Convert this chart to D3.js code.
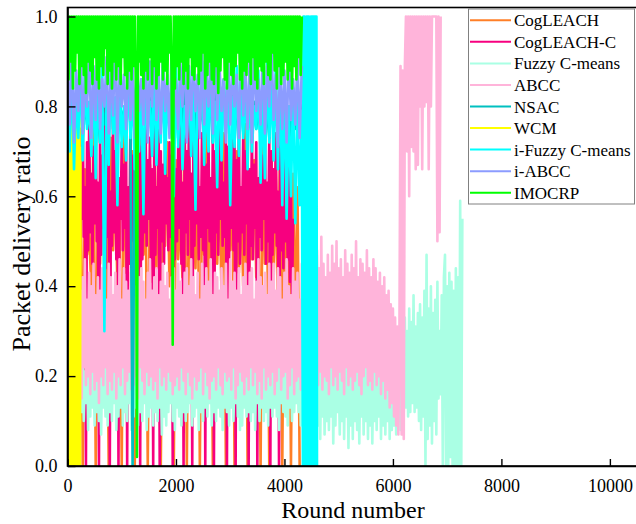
<!DOCTYPE html>
<html>
<head>
<meta charset="utf-8">
<script src="https://cdn.jsdelivr.net/npm/d3@7"></script>
<style>
body { margin: 0; background: #fff; }
text { font-family: "Liberation Serif", "Times New Roman", serif; }
</style>
</head>
<body>
<svg id="chart" width="636" height="524"></svg>
<script>
// series names + colours, in drawing (legend) order
var names = ["CogLEACH", "CogLEACH-C", "Fuzzy C-means", "ABCC", "NSAC", "WCM", "i-Fuzzy C-means", "i-ABCC", "IMOCRP"];
var colors = ["#ff7f27", "#f7007f", "#aaffe4", "#ffb4da", "#00c0c0", "#ffff00", "#00ffff", "#8c9cff", "#00ff00"];

var xTicks = [0, 2000, 4000, 6000, 8000, 10000];
var yTicks = [0, 0.2, 0.4, 0.6, 0.8, 1.0];

// values, one value every "step" rounds from "start"
var cogleach = [
  .63,.02,.71,.44,.58,.41,.75,0,.66,.47,
  .52,.39,.77,0,.61,.45,.69,.42,.57,0,
  .73,.48,.64,.40,.55,0,.78,.43,.60,.46,
  .70,0,.53,.38,.74,.47,.63,0,.67,.41,
  .59,.44,.76,0,.56,.49,.72,.40,.61,0,
  .68,.46,.54,.42,.77,0,.65,.39,.58,.44,
  .71,0,.62,.47,.75,.41,.57,0,.69,.45,
  .63,.38,.74,0,.52,.48,.66,0,.70,.43,
  .60,.40,.76,0,.55,.46,.68,.42,.64,0,
  .72,.45,.58,0,.70,.41,.66,.36,.72,0,
  .68,.33,.70,0,.65,.30,.62,0];
var cogleachC = [
  .70,.50,.76,.47,.66,0,.79,.53,.64,.49,
  .74,.46,.68,.55,.80,.51,.62,0,.72,.48,
  .77,.52,.65,.45,.71,.54,.78,.50,.63,0,
  .75,.47,.69,.53,.80,.44,.66,.51,.73,0,
  .61,.49,.77,.52,.70,.46,.79,0,.64,.55,
  .72,.48,.67,.53,.76,0,.62,.45,.78,.50,
  .69,.54,.74,.47,.65,.51,.80,0,.71,.46,
  .63,.52,.77,.49,.68,.55,.73,.44,.66,0,
  .79,.47,.62,.53,.75,0,.70,.50,.67,.45,
  .76,.54,.64,.48,.72,.51,.69,0,.74,.46,
  .66,.50,.71,.53,.78,.45,.63,0,.75,.52,
  .70,.47,.80,.55,.65,0,.73,.49,.68,.54,
  .77,.46,.62,.51,.74,.48,.79,0,.67,.53,
  .72,.50,.64,.44,.76,0,.70,.52,.66,.47,
  .78,.55,.69,.49,.63,.51,.75,0,.71,.46,
  .65,.53,.80,.48,.73,0,.68,.50,.77,.45,
  .62,.52,.74,.47,.70,.54,.79,0,.66,.49,
  .75,.46,.67,.53,.72,0,.64,.51,.78,.48,
  .69,.55,.76,.45,.63,.50,.73,0,.70,.47,
  .66,.52,.74,.49,.61,0,.71,.48,.65,.44,
  .68,.50,.63,.46,.70,.41,.60,.38,.55];
var fuzzy = [
  .24,.10,.28,.12,.22,.08,.27,.13,.25,.11,
  .29,.09,.23,.12,.26,.10,.21,.14,.28,.08,
  .25,.11,.30,.13,.22,.09,.27,.12,.24,.10,
  .28,.07,.23,.13,.26,.11,.29,.09,.21,.12,
  .27,.10,.24,.14,.28,.08,.22,.11,.26,.13,
  .30,.09,.25,.12,.23,.10,.27,.14,.24,.08,
  .28,.11,.22,.13,.26,.09,.29,.12,.25,.10,
  .23,.14,.27,.08,.24,.11,.28,.13,.21,.09,
  .26,.12,.29,.10,.25,.13,.22,.07,.27,.11,
  .24,.09,.28,.12,.23,.14,.26,.10,.29,.08,
  .25,.13,.22,.11,.27,.09,.24,.12,.28,.10,
  .27,.12,.23,.14,.29,.09,.25,.11,.22,.13,
  .26,.08,.28,.12,.24,.10,.30,.13,.23,.11,
  .29,.14,.25,.09,.27,.12,.22,.10,.28,.13,
  .23,.11,.26,.08,.29,.13,.24,.12,.27,.09,
  .25,.13,.28,.10,.22,.14,.26,.11,.30,.08,
  .28,.09,.24,.13,.27,.11,.23,.12,.25,.10,
  .22,.12,.29,.08,.26,.14,.28,.10,.24,.13,
  .27,.10,.25,.12,.23,.09,.29,.13,.26,.11,
  .30,.13,.24,.11,.28,.08,.25,.14,.22,.12,
  .26,.11,.29,.09,.24,.13,.27,.10,.28,.12,
  .23,.14,.26,.12,.30,.09,.25,.11,.22,.13,
  .28,.10,.24,.13,.27,.08,.26,.12,.29,.11,
  .23,.09,.26,.06,.25,.11,.27,.07,.24,.10,
  .28,.08,.23,.11,.26,.05,.24,.09,.27,.12,
  .22,.07,.25,.10,.28,.06,.24,.11,.26,.04,
  .23,.09,.27,.06,.25,.10,.22,.08,.26,.05,
  .24,.11,.27,.07,.23,.10,.28,.06,.25,.09,
  .26,.05,.22,.10,.27,.08,.24,.11,.25,.06,
  .23,.09,.26,.07,.24,.10,.28,.06,.25,.08,
  .24,.09,.21,.07,.28,.10,.26,.08,.30];
var fuzzyEnd = [
  .31,.12,.33,.13,.30,.11,.35,.12,.32,.14,
  .38,.12,.31,.13,.34,.10,.36,.08,.33,.11,
  .39,0,.47,.06,.35,.09,.40,.05,.34,.10,
  .37,.07,.41,.15,.30,.16,.38,0,.42,.47,
  0,.40,0,.43,.02,.41,0,.39,0,.44,
  0,.42,0,.59,0,.55];
var abcc = [
  .41,.18,.45,.20,.38,.16,.43,.21,.40,.17,
  .44,.19,.39,.15,.42,.22,.46,.18,.37,.20,
  .43,.16,.40,.21,.45,.17,.38,.19,.42,.14,
  .39,.20,.44,.18,.41,.22,.37,.16,.45,.19,
  .42,.17,.38,.21,.43,.15,.40,.20,.46,.18,
  .37,.22,.44,.16,.41,.19,.39,.21,.43,.17,
  .45,.18,.40,.20,.38,.15,.42,.22,.44,.19,
  .41,.16,.37,.21,.43,.18,.46,.20,.39,.17,
  .42,.19,.44,.15,.38,.22,.41,.18,.45,.20,
  .40,.17,.43,.21,.37,.19,.42,.16,.44,.18,
  .39,.20,.45,.17,.41,.22,.38,.19,.43,.16,
  .44,.21,.40,.18,.46,.15,.42,.20,.38,.17,
  .43,.19,.37,.22,.45,.16,.40,.21,.44,.18,
  .41,.15,.46,.19,.38,.20,.43,.17,.42,.22,
  .39,.18,.44,.16,.40,.21,.45,.19,.37,.20,
  .46,.17,.41,.22,.43,.15,.39,.18,.44,.21,
  .38,.19,.42,.16,.45,.20,.40,.17,.43,.22,
  .44,.18,.37,.21,.41,.16,.46,.19,.42,.15,
  .40,.22,.43,.17,.38,.20,.45,.18,.41,.21,
  .45,.16,.39,.19,.44,.22,.42,.17,.37,.20,
  .43,.21,.46,.15,.40,.18,.38,.22,.44,.16,
  .41,.19,.43,.20,.37,.17,.45,.21,.42,.18,
  .39,.16,.44,.22,.41,.19,.46,.17,.43,.20,
  .48,.18,.44,.21,.51,.17,.45,.20,.42,.19,
  .47,.16,.43,.22,.49,.18,.45,.20,.50,.17,
  .44,.21,.46,.19,.42,.16,.48,.22,.45,.18,
  .43,.20,.47,.17,.44,.19,.50,.21,.42,.18,
  .46,.16,.45,.20,.43,.22,.48,.18,.44,.19,
  .42,.17,.46,.21,.44,.18,.41,.20,.43,.16,
  .40,.19,.42,.15,.38,.17,.39,.13,.36,.14,
  .35,.11,.33,.09,.31,.07,.30];
var abccEnd = [
  .89,.07,.88,.06,.89,1,.70,1,.60,1,
  .71,1,.70,1,.66,1,.67,1,.80,1,
  .66,1,.80,1,.81,1,.66,1,.80,1,
  1,1,1,1,.50,1,.52,1];
var nsac = [
  .82,0,.84,.75,.80,.77,.86,.73,.81,.76,
  .79,.74,.85,.77,.80,.72,.83,.76,.79,.73,
  .86,.75,.80,.72,.82,.77,.79,.74,.84,.76,
  0,.75,.81,.73,.83,.77,.79,.74,.85,.76,
  .80,.72,.84,.76,.81,.73,.82,.77,.79,.75,
  .85,.73,.80,.76,.86,.74,.79,.77,.82,.72,
  .83,.76,.80,.74,.84,.77,.81,.72,.83,.78,
  .79,.73,.86,.75,.80,.77,.84,.72,.81,.76,
  .82,.74,.79,.77,.85,.72,.81,.75,.80,.73,
  .86,.76,.79,.73,.83,.75,.81,.77,.79,.72,
  .82,.76,.80,.73,.84,.75,.79,.74,.81];
var wcm = [.70,0,.76,0,.74,0,.77,0,.72,0,.75,0,.77,0,.73,0,.76,0,.74,0,.77,0,.71];
var iFuzzy = [
  .86,.70,.89,.66,.83,.73,.90,.68,.87,.75,
  .81,.69,.88,.64,.85,.72,.90,.30,.84,.67,
  .89,.74,.82,.58,.87,.71,.80,.68,.90,.73,
  .84,.66,.88,.70,.86,.56,.90,.75,.81,.69,
  .88,.67,.83,.72,.90,.65,.85,.74,.82,.60,
  .89,.71,.87,.66,.80,.73,.88,.69,.84,.57,
  .86,.75,.90,.67,.83,.70,.88,.72,.81,.62,
  .90,.68,.85,.74,.87,.58,.82,.71,.89,.69,
  .84,.73,.88,.66,.86,.70,.80,.75,.88,.63,
  .83,.64,.90,.72,.85,.68,.89,.66,.87,.58,
  .86,.55,.80,.60,.84,.54,.81,.58,.79];
var iFuzzyEnd = [0,1,.02,1,0,.98,0,1,.01,1,0,1,0,.99,0,1,.03,1,0,1,0,1,.02,1,0,1,0];
var iAbcc = [
  .90,.76,.93,.72,.88,.79,.95,.74,.87,.80,
  .92,.73,.89,.77,.94,.75,.86,.80,.91,.74,
  .88,.78,.95,.72,.90,.80,.87,.75,.93,.77,
  .89,.73,.92,.79,.86,.76,.94,.72,.90,.80,
  .95,.77,.88,.74,.91,.79,.87,.73,.93,.78,
  .86,.75,.90,.80,.94,.72,.89,.77,.92,.79,
  .87,.73,.93,.76,.88,.80,.91,.74,.95,.77,
  .90,.79,.86,.72,.92,.76,.89,.80,.87,.73,
  .94,.78,.88,.75,.91,.72,.93,.79,.86,.76,
  .92,.74,.89,.80,.95,.77,.87,.71,.90,.75,
  .88,.72,.93,.77,.86,.76,.91,.73,.89];
var imocrp = [
  1,.86,1,.90,1,.84,1,.88,1,.92,
  1,.85,1,.89,1,.87,1,.83,1,.90,
  1,.88,1,.85,1,.91,1,.86,1,.84,
  1,.89,1,.87,1,.93,1,.85,1,.88,
  1,.84,1,.90,1,.86,1,.89,1,.85,
  1,.91,1,.87,1,.84,1,.88,1,.86,
  1,.89,1,.85,.02,1,.90,1,.87,1,
  .84,1,.88,1,.86,1,.91,1,.85,1,
  .89,1,.84,1,.87,1,.90,1,.86,1,
  .88,1,.85,1,.92,1,.87,.27,1,.84,
  1,.89,1,.86,1,.90,1,.85,1,.88,
  1,.84,1,.91,1,.87,1,.86,1,.89,
  1,.85,1,.88,1,.92,1,.84,1,.87,
  1,.90,1,.86,1,.85,1,.89,1,.83,
  1,.88,1,.91,1,.86,1,.84,1,.90,
  1,.87,1,.85,1,.89,1,.92,1,.86,
  1,.84,1,.88,1,.87,1,.90,1,.85,
  1,.91,1,.86,1,.84,1,.89,1,.88,
  1,.85,1,.90,1,.87,1,.86,1,.92,
  1,.88,1,.84,1,.89,1,.85,1,.87,
  1,.90,1,.86,1,.88,1,.84,1,.89,
  1,.86,1,.91,1,.87,1];

// [start round, step, values] pieces per series
var pieces = [
  [[0, 40, cogleach]],
  [[0, 20, cogleachC]],
  [[0, 20, fuzzy], [6180, 20, fuzzyEnd]],
  [[0, 20, abcc], [6140, 20, abccEnd]],
  [[0, 40, nsac]],
  [[20, 10, wcm]],
  [[0, 40, iFuzzy], [4340, 10, iFuzzyEnd]],
  [[0, 40, iAbcc]],
  [[0, 20, imocrp]]
];

var svg = d3.select("#chart");
var pL = 67.5, pR = 637, pT = 7.5, pB = 466;

var x = d3.scaleLinear().domain([0, 10500]).range([pL, pR]);
var y = d3.scaleLinear().domain([0, 1.02]).range([pB, pT]);

svg.append("clipPath").attr("id", "clip")
  .append("rect").attr("x", pL).attr("y", pT).attr("width", pR - pL).attr("height", pB - pT);

var line = d3.line().x(function(d){ return x(d[0]); }).y(function(d){ return y(d[1]); });

var plot = svg.append("g").attr("clip-path", "url(#clip)");
pieces.forEach(function(p, i){
  var pts = [];
  p.forEach(function(seg){
    seg[2].forEach(function(v, j){ pts.push([seg[0] + j * seg[1], v]); });
  });
  plot.append("path").datum(pts)
    .attr("d", line)
    .attr("fill", "none")
    .attr("stroke", colors[i])
    .attr("stroke-width", 2.6)
    .attr("stroke-linejoin", "round");
});

// frame
svg.append("rect").attr("x", pL).attr("y", pT).attr("width", pR - pL + 2).attr("height", pB - pT)
  .attr("fill", "none").attr("stroke", "#000").attr("stroke-width", 1.6);

var xAxis = svg.append("g").attr("transform", "translate(0," + pB + ")")
  .call(d3.axisBottom(x).tickValues(xTicks).tickFormat(d3.format("d")).tickSizeInner(-7).tickSizeOuter(0).tickPadding(13));
var yAxis = svg.append("g").attr("transform", "translate(" + pL + ",0)")
  .call(d3.axisLeft(y).tickValues(yTicks).tickFormat(d3.format(".1f")).tickSizeInner(-8).tickSizeOuter(0).tickPadding(10));
[xAxis, yAxis].forEach(function(a){
  a.select(".domain").attr("stroke-width", 1.6);
  a.selectAll(".tick line").attr("stroke-width", 1.4);
  a.selectAll("text").attr("font-size", 18).attr("fill", "#000")
    .style("font-family", '"Liberation Serif", serif');
});

svg.append("text").attr("x", 353).attr("y", 518).attr("text-anchor", "middle")
  .attr("font-size", 24).text("Round number");
svg.append("text").attr("transform", "translate(30,244) rotate(-90)").attr("text-anchor", "middle")
  .attr("font-size", 26).text("Packet delivery ratio");

// legend
var lg = svg.append("g");
lg.append("rect").attr("x", 468.5).attr("y", 9).attr("width", 166).attr("height", 195)
  .attr("fill", "#fff").attr("stroke", "#808080").attr("stroke-width", 1);
names.forEach(function(n, i){
  var cy = 20.3 + i * 21.55;
  lg.append("line").attr("x1", 470).attr("x2", 511).attr("y1", cy).attr("y2", cy)
    .attr("stroke", colors[i]).attr("stroke-width", 2);
  lg.append("text").attr("x", 514).attr("y", cy + 6).attr("font-size", 17).text(n);
});
</script>
</body>
</html>
